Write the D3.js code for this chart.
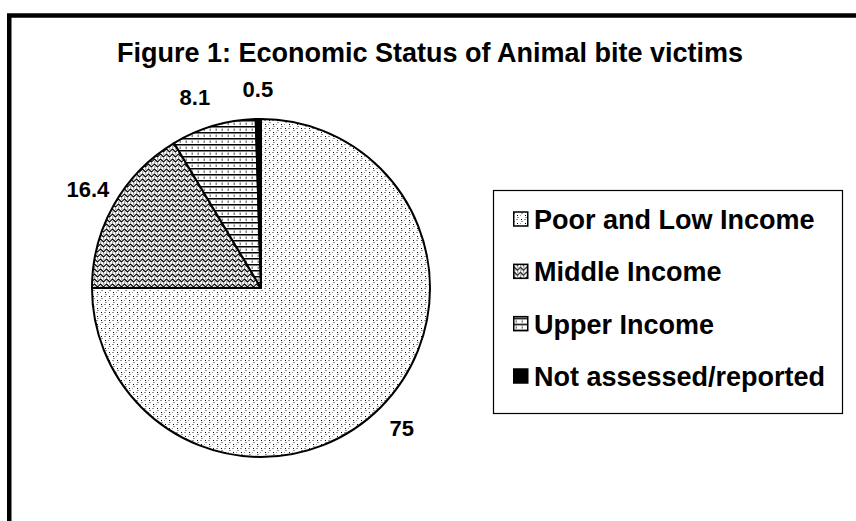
<!DOCTYPE html>
<html>
<head>
<meta charset="utf-8">
<script src="https://cdn.jsdelivr.net/npm/d3@7"></script>
<style>
  body { margin: 0; background: #fff; }
  text { font-family: "Liberation Sans", Arial, sans-serif; font-weight: bold; fill: #000; }
</style>
</head>
<body>
<svg id="chart" width="856" height="521"></svg>
<script>
// data
var categories = ["Poor and Low Income", "Middle Income", "Upper Income", "Not assessed/reported"];
var values = [75, 16.4, 8.1, 0.5];
var valueLabels = ["75", "16.4", "8.1", "0.5"];
var patternIds = ["pDots", "pWave", "pBrick", "pSolid"];

var svg = d3.select("#chart");
var defs = svg.append("defs");

// fine dot fill
var p = defs.append("pattern").attr("id", "pDots").attr("patternUnits", "userSpaceOnUse")
  .attr("width", 8).attr("height", 8);
p.append("rect").attr("width", 8).attr("height", 8).attr("fill", "#fff");
p.append("rect").attr("x", 0).attr("y", 0).attr("width", 1).attr("height", 1).attr("fill", "#000");
p.append("rect").attr("x", 4).attr("y", 4).attr("width", 1).attr("height", 1).attr("fill", "#000");
p.append("rect").attr("x", 3).attr("y", 0).attr("width", 2).attr("height", 1).attr("fill", "#999");
p.append("rect").attr("x", 7).attr("y", 4).attr("width", 2).attr("height", 1).attr("fill", "#999");
p.append("rect").attr("x", 0).attr("y", 2).attr("width", 2).attr("height", 1).attr("fill", "#999");
p.append("rect").attr("x", 4).attr("y", 6).attr("width", 2).attr("height", 1).attr("fill", "#999");

// chain-like fill
p = defs.append("pattern").attr("id", "pWave").attr("patternUnits", "userSpaceOnUse")
  .attr("width", 6).attr("height", 5);
p.append("rect").attr("width", 6).attr("height", 5).attr("fill", "#fff");
p.append("path").attr("d", "M0,2.5 L1.5,1 L3,2.5 L4.5,4 L6,2.5").attr("fill", "none")
  .attr("stroke", "#000").attr("stroke-width", 1.1);
p.append("rect").attr("x", 4).attr("y", 0.5).attr("width", 1.5).attr("height", 1).attr("fill", "#666");
p.append("rect").attr("x", 1).attr("y", 3.5).attr("width", 1.5).attr("height", 1).attr("fill", "#666");

// brick fill
p = defs.append("pattern").attr("id", "pBrick").attr("patternUnits", "userSpaceOnUse")
  .attr("width", 6).attr("height", 6);
p.append("rect").attr("width", 6).attr("height", 6).attr("fill", "#fff");
p.append("rect").attr("x", 0).attr("y", 0).attr("width", 6).attr("height", 1.5).attr("fill", "#000");
p.append("rect").attr("x", 2.5).attr("y", 2.5).attr("width", 1.5).attr("height", 2.5).attr("fill", "#888");

p = defs.append("pattern").attr("id", "pSolid").attr("patternUnits", "userSpaceOnUse")
  .attr("width", 4).attr("height", 4);
p.append("rect").attr("width", 4).attr("height", 4).attr("fill", "#000");

// outer frame (runs off the bottom/right like the original)
svg.append("rect")
  .attr("x", 9.25).attr("y", 15.5).attr("width", 900).attr("height", 600)
  .attr("fill", "none").attr("stroke", "#000").attr("stroke-width", 4.5);

svg.append("text")
  .attr("x", 430).attr("y", 53)
  .attr("text-anchor", "middle").attr("dominant-baseline", "central")
  .style("font-size", "27px")
  .text("Figure 1: Economic Status of Animal bite victims");

// pie
var cx = 261, cy = 288, radius = 169;
var pie = d3.pie().sort(null).value(function(d) { return d; });
var arcs = pie(values);
var arc = d3.arc().innerRadius(0).outerRadius(radius);
var labelArc = d3.arc().innerRadius(radius + 30).outerRadius(radius + 30);

var g = svg.append("g").attr("transform", "translate(" + cx + "," + cy + ")");
g.selectAll("path.slice")
  .data(arcs)
  .enter().append("path")
  .attr("class", "slice")
  .attr("d", arc)
  .attr("fill", function(d, i) { return "url(#" + patternIds[i] + ")"; })
  .attr("stroke", "#000")
  .attr("stroke-width", 2)
  .attr("stroke-linejoin", "round");

g.selectAll("text.val")
  .data(arcs)
  .enter().append("text")
  .attr("class", "val")
  .attr("transform", function(d) {
    var c = labelArc.centroid(d);
    if (d.index === 2) c[0] -= 10;
    return "translate(" + c + ")";
  })
  .attr("text-anchor", "middle").attr("dominant-baseline", "central")
  .style("font-size", "22px")
  .text(function(d, i) { return valueLabels[i]; });

// legend
svg.append("rect")
  .attr("x", 493.5).attr("y", 190.5).attr("width", 349).attr("height", 223)
  .attr("fill", "#fff").attr("stroke", "#000").attr("stroke-width", 1.2);

var rowY = d3.scalePoint().domain(categories).range([219, 376]);
var leg = svg.selectAll("g.leg")
  .data(categories)
  .enter().append("g")
  .attr("class", "leg")
  .attr("transform", function(d) { return "translate(513," + rowY(d) + ")"; });
leg.append("rect")
  .attr("x", 0.75).attr("y", -7).attr("width", 14).attr("height", 14)
  .attr("fill", function(d, i) { return "url(#" + patternIds[i] + ")"; })
  .attr("stroke", "#000").attr("stroke-width", 1.5);
leg.append("text")
  .attr("x", 21).attr("y", 1)
  .attr("dominant-baseline", "central")
  .style("font-size", "27px")
  .text(function(d) { return d; });
</script>
</body>
</html>
